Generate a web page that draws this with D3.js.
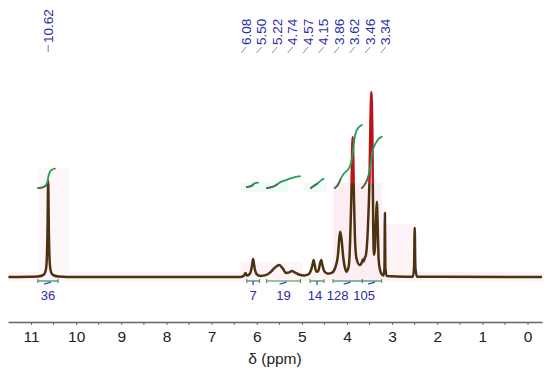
<!DOCTYPE html>
<html>
<head>
<meta charset="utf-8">
<script src="https://cdn.jsdelivr.net/npm/d3@7/dist/d3.min.js"></script>
<style>
  html, body { margin: 0; padding: 0; background: #fff; }
  svg { display: block; font-family: "Liberation Sans", Arial, sans-serif; }
</style>
</head>
<body>
<svg id="chart" width="550" height="368"></svg>
<script>
// ---------------- DATA ----------------
// spectrum trace: chemical shift (ppm) and relative intensity
const tracePpm = [11.50, 10.85, 10.75, 10.70, 10.67, 10.65, 10.635, 10.62, 10.605, 10.59, 10.57, 10.54, 10.49, 10.39, 10.00,
  6.35, 6.28, 6.25, 6.22, 6.16, 6.12, 6.10, 6.08, 6.06, 6.04, 6.00, 5.92,
  5.80, 5.70, 5.60, 5.50, 5.42, 5.35, 5.28, 5.22, 5.15, 5.05, 4.95,
  4.85, 4.80, 4.76, 4.74, 4.72, 4.68, 4.64, 4.60, 4.57, 4.55, 4.50, 4.42, 4.34,
  4.26, 4.20, 4.17, 4.15, 4.12, 4.08, 4.04, 4.01,
  3.96, 3.93, 3.905, 3.875, 3.845, 3.825, 3.79, 3.72,
  3.67, 3.65, 3.63, 3.61, 3.58, 3.54, 3.50, 3.48, 3.46, 3.44, 3.42, 3.41, 3.40,
  3.38, 3.36, 3.34, 3.32, 3.30, 3.27, 3.23, 3.19, 3.17, 3.16, 3.15, 3.12, 2.90,
  2.54, 2.515, 2.50, 2.485, 2.45, 2.00, -0.32];
const traceInt = [0, 0.3, 0.8, 1.8, 4, 10, 25, 52, 25, 10, 4, 1.8, 0.8, 0.3, 0,
  0, 0.8, 2.2, 0.8, 1.5, 4, 7, 9.7, 7, 4, 1.5, 0.6,
  1, 2.5, 5, 6.5, 4.5, 2.2, 2.5, 3.2, 2.4, 1.2, 0.8,
  1.5, 3.5, 7, 9.2, 7, 2.8, 3, 7, 9.2, 7, 3, 1.8, 2.2,
  5, 12, 21, 24.5, 20, 10, 4.5, 2.9,
  6, 20, 42, 75.7, 42, 22, 10, 6.5,
  8, 9.5, 8.5, 10, 12, 25, 55, 85, 100, 80, 30, 15, 12,
  16, 30, 40.7, 28, 10, 4, 1.5, 0.8, 5, 34.6, 5, 0.6, 0.3,
  0.2, 5, 26.6, 5, 0.2, 0.1, 0];

// picked peaks
const peakLabels = ["10.62", "6.08", "5.50", "5.22", "4.74", "4.57", "4.15", "3.86", "3.62", "3.46", "3.34"];

// integrals: range (ppm) and value
const integralFrom = [10.85, 6.22, 5.78, 4.82, 4.31, 3.66];
const integralTo   = [10.40, 5.94, 5.03, 4.51, 3.66, 3.23];
const integralValues = ["36", "7", "19", "14", "128", "105"];
// integral curves (ppm, cumulative level in intensity units)
const integralCurvePpm = [
  [10.84, 10.72, 10.66, 10.63, 10.61, 10.57, 10.50, 10.47],
  [6.22, 6.12, 6.08, 6.04, 5.97],
  [5.77, 5.65, 5.55, 5.45, 5.30, 5.20, 5.04],
  [4.80, 4.74, 4.65, 4.57, 4.52],
  [4.27, 4.20, 4.15, 4.08, 3.98, 3.90, 3.86, 3.82, 3.75, 3.67],
  [3.67, 3.58, 3.50, 3.46, 3.42, 3.36, 3.30, 3.23]
];
const integralCurveLevel = [
  [48.1, 48.5, 49.5, 52, 55.5, 57.5, 58.5, 58.6],
  [48.6, 49, 50, 50.8, 51],
  [48.1, 48.5, 50, 51.8, 52.8, 53.8, 54.5],
  [48.1, 49.2, 50.5, 52.5, 53],
  [48.1, 49.5, 52.5, 56, 57.5, 61, 70, 78, 81, 82.2],
  [48.1, 50.5, 56, 64, 70, 72.5, 75, 75.7]
];

// axis ticks
const tickValues = [11, 10, 9, 8, 7, 6, 5, 4, 3, 2, 1, 0];
const minorTickValues = [10.5, 9.5, 8.5, 7.5, 6.5, 5.5, 4.5, 3.5, 2.5, 1.5, 0.5];
const axisTitle = "δ (ppm)";

// ---------------- DRAWING ----------------
const svg = d3.select("#chart");
const x = d3.scaleLinear().domain([11.51, -0.32]).range([8, 542]);
const y = d3.scaleLinear().domain([0, 100]).range([277, 92]);
const blue = "#2b2ba6";
const brown = "#4d3210";
const red = "#b8141a";
const green = "#1fa055";

// faint highlight regions
const bg = svg.append("g");
bg.append("rect").attr("x", 8).attr("y", 272).attr("width", 536).attr("height", 9)
  .attr("fill", "#fef3f7");
bg.append("rect").attr("x", x(10.84)).attr("y", 168).attr("width", x(10.15) - x(10.84)).attr("height", 112)
  .attr("fill", "#fef7fa");
bg.append("rect").attr("x", x(4.31)).attr("y", 183).attr("width", x(3.23) - x(4.31)).attr("height", 97)
  .attr("fill", "#fdeef4");
bg.append("rect").attr("x", x(3.23)).attr("y", 224).attr("width", x(2.52) - x(3.23)).attr("height", 56)
  .attr("fill", "#fef4f8");
bg.append("rect").attr("x", x(6.35)).attr("y", 262).attr("width", x(5.0) - x(6.35)).attr("height", 18)
  .attr("fill", "#fef4f8");
// pale cyan behind small integral curves
[[6.35, 5.30], [4.95, 4.45]].forEach(r => {
  bg.append("rect").attr("x", x(r[0])).attr("y", 183).attr("width", x(r[1]) - x(r[0])).attr("height", 9)
    .attr("fill", "#f0fbf8");
});

// spectrum
const traceData = tracePpm.map((p, i) => [p, traceInt[i]]);
const line = d3.line().x(d => x(d[0])).y(d => y(d[1])).curve(d3.curveMonotoneX);
const defs = svg.append("defs");
defs.append("clipPath").attr("id", "low").append("rect")
  .attr("x", 0).attr("y", 184).attr("width", 550).attr("height", 200);
defs.append("clipPath").attr("id", "high").append("rect")
  .attr("x", 0).attr("y", 0).attr("width", 550).attr("height", 184);
svg.append("path").datum(traceData).attr("d", line)
  .attr("fill", "none").attr("stroke", brown).attr("stroke-width", 2.5)
  .attr("stroke-linejoin", "round").attr("clip-path", "url(#low)");
svg.append("path").datum(traceData).attr("d", line)
  .attr("fill", "none").attr("stroke", red).attr("stroke-width", 2.5)
  .attr("stroke-linejoin", "round").attr("clip-path", "url(#high)");

// integral curves
const iline = d3.line().x(d => x(d[0])).y(d => y(d[1])).curve(d3.curveBasis);
integralCurvePpm.forEach((ps, k) => {
  const pts = ps.map((p, i) => [p, integralCurveLevel[k][i]]);
  svg.append("path").datum(pts).attr("d", iline)
    .attr("fill", "none").attr("stroke", green).attr("stroke-width", 1.8)
    .attr("stroke-linecap", "round");
  svg.append("path").datum(pts.slice(0, 3)).attr("d", iline)
    .attr("fill", "none").attr("stroke", "#5a6a4a").attr("stroke-width", 1.8)
    .attr("stroke-linecap", "round");
});

// integral brackets and values
const by = 281;
integralFrom.forEach((f, i) => {
  const x0 = x(f), x1 = x(integralTo[i]), xc = (x0 + x1) / 2;
  const g = svg.append("g");
  g.append("line").attr("x1", x0).attr("x2", x1).attr("y1", by).attr("y2", by)
    .attr("stroke", "#3a8a5a").attr("stroke-width", 1.2);
  [x0, x1].forEach(xx => g.append("line").attr("x1", xx).attr("x2", xx)
    .attr("y1", by - 2).attr("y2", by + 2).attr("stroke", "#3a8a5a").attr("stroke-width", 1));
  if (x1 - x0 > 18) {
    g.append("line").attr("x1", xc - 4).attr("x2", xc + 3).attr("y1", by + 3).attr("y2", by + 1)
      .attr("stroke", "#3050b0").attr("stroke-width", 1.3);
  } else {
    g.append("line").attr("x1", xc).attr("x2", xc).attr("y1", by).attr("y2", by + 4)
      .attr("stroke", "#3050b0").attr("stroke-width", 1.3);
  }
});
const labelNudge = [0, 0, 0, -2, -10, -8];
integralValues.forEach((v, i) => {
  const xc = (x(integralFrom[i]) + x(integralTo[i])) / 2 + labelNudge[i];
  svg.append("text").attr("x", xc).attr("y", 300).attr("text-anchor", "middle")
    .attr("font-size", 13).attr("fill", blue).text(v);
});

// peak labels with spreading
const peakX = peakLabels.map(s => x(+s));
const labelX = peakX.slice();
const gap = 15.5;
const grp = d3.range(1, peakLabels.length);
const cen = (peakX[grp[0]] + peakX[grp[grp.length - 1]]) / 2;
const span = gap * (grp.length - 1);
grp.forEach((idx, j) => { labelX[idx] = cen - span / 2 + j * gap + 1; });
peakLabels.forEach((s, i) => {
  const lx = labelX[i];
  svg.append("text")
    .attr("transform", `translate(${lx},${i === 0 ? 43 : 45}) rotate(-90)`)
    .attr("dominant-baseline", "central")
    .attr("font-size", 13.5).attr("fill", blue).text(s);
  if (i === 0) {
    svg.append("line").attr("x1", lx).attr("x2", lx).attr("y1", 45).attr("y2", 52)
      .attr("stroke", "#7a7ab0").attr("stroke-width", 1);
  } else {
    svg.append("line").attr("x1", lx - 5).attr("x2", lx).attr("y1", 53).attr("y2", 47)
      .attr("stroke", "#8a8ac0").attr("stroke-width", 1);
  }
});

// x axis
const axisY = 322;
const axis = d3.axisBottom(x).tickValues(tickValues).tickFormat(d3.format("d"))
  .tickSize(3).tickSizeOuter(0).tickPadding(6);
const ag = svg.append("g").attr("transform", `translate(0,${axisY})`).call(axis);
ag.select(".domain").attr("stroke", "#666").attr("stroke-width", 1.6);
ag.selectAll(".tick line").attr("stroke", "#666");
ag.selectAll(".tick text").attr("font-size", 15.5).attr("fill", "#222")
  .attr("font-family", "Liberation Sans, Arial, sans-serif");
ag.selectAll(".minor").data(minorTickValues).enter().append("line")
  .attr("x1", d => x(d)).attr("x2", d => x(d)).attr("y1", 0).attr("y2", 3)
  .attr("stroke", "#666");
svg.append("text").attr("x", 275).attr("y", 364).attr("text-anchor", "middle")
  .attr("font-size", 15.5).attr("fill", "#222").text(axisTitle);
</script>
</body>
</html>
